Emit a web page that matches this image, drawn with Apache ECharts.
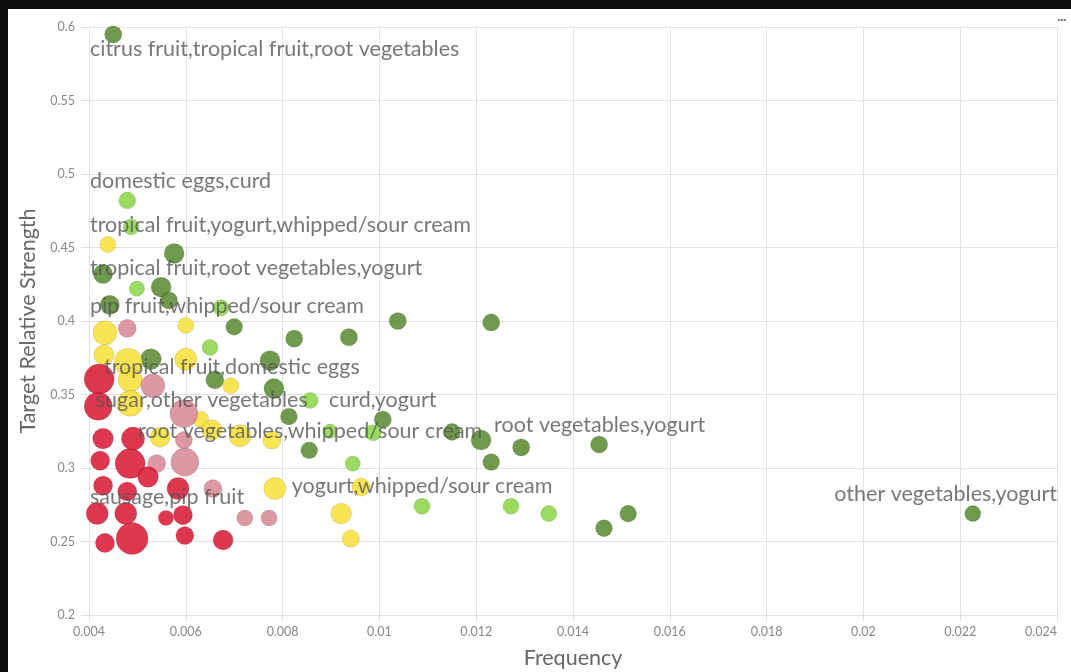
<!DOCTYPE html>
<html>
<head>
<meta charset="utf-8">
<script src="https://cdn.jsdelivr.net/npm/echarts@6/dist/echarts.min.js"></script>
<style>
  html, body { margin: 0; padding: 0; background: #0d0d0d; }
  #chart { position: absolute; left: 8px; top: 9px; width: 1063px; height: 663px; background: #fff; }
</style>
</head>
<body>
<div id="chart"></div>
<script>
// one group per colour: frequency, target relative strength, support (bubble weight)
const darkGreenX = [0.0045, 0.00576, 0.00429, 0.00549, 0.00565, 0.00443, 0.0070, 0.00824, 0.00937, 0.01038, 0.01231, 0.00528, 0.00774, 0.0066, 0.00782, 0.00813, 0.01007, 0.0115, 0.0121, 0.00855, 0.01231, 0.01293, 0.01454, 0.01464, 0.01514, 0.02226];
const darkGreenY = [0.595, 0.446, 0.432, 0.423, 0.414, 0.411, 0.396, 0.388, 0.389, 0.400, 0.399, 0.374, 0.373, 0.360, 0.354, 0.335, 0.333, 0.3245, 0.319, 0.312, 0.304, 0.314, 0.316, 0.259, 0.269, 0.269];
const darkGreenW = [4.3, 5.0, 4.8, 5.0, 4.3, 4.8, 4.2, 4.3, 4.3, 4.3, 4.3, 5.2, 5.0, 4.5, 5.0, 4.2, 4.3, 4.2, 5.0, 4.2, 4.2, 4.3, 4.3, 4.2, 4.2, 4.0];

const lightGreenX = [0.00479, 0.00487, 0.00499, 0.00673, 0.0065, 0.00857, 0.00898, 0.00987, 0.00945, 0.01088, 0.01272, 0.0135];
const lightGreenY = [0.482, 0.464, 0.422, 0.409, 0.382, 0.346, 0.325, 0.324, 0.303, 0.274, 0.274, 0.269];
const lightGreenW = [4.2, 4.0, 3.8, 4.0, 4.0, 4.0, 3.6, 4.0, 3.8, 4.0, 4.0, 4.0];

const yellowX = [0.00439, 0.00433, 0.006, 0.00431, 0.00481, 0.006, 0.00485, 0.00693, 0.00485, 0.00631, 0.00654, 0.00547, 0.00712, 0.00778, 0.00784, 0.00962, 0.00921, 0.00941];
const yellowY = [0.452, 0.392, 0.397, 0.377, 0.372, 0.374, 0.360, 0.356, 0.344, 0.333, 0.326, 0.321, 0.322, 0.319, 0.286, 0.287, 0.269, 0.252];
const yellowW = [4.0, 6.0, 4.0, 5.0, 7.0, 5.5, 6.0, 4.0, 6.5, 4.0, 5.0, 5.0, 5.5, 4.5, 5.5, 4.5, 5.2, 4.3];

const pinkX = [0.00479, 0.00532, 0.00596, 0.00596, 0.0054, 0.00598, 0.00656, 0.00722, 0.00772];
const pinkY = [0.395, 0.356, 0.337, 0.319, 0.303, 0.304, 0.286, 0.266, 0.266];
const pinkW = [4.5, 6.0, 7.0, 4.3, 4.5, 7.0, 4.5, 4.0, 4.0];

const redX = [0.00421, 0.00419, 0.00429, 0.00491, 0.00423, 0.00485, 0.00522, 0.00429, 0.00479, 0.00584, 0.00417, 0.00476, 0.00559, 0.00594, 0.00433, 0.00489, 0.00598, 0.00677];
const redY = [0.3605, 0.342, 0.320, 0.320, 0.305, 0.303, 0.294, 0.288, 0.284, 0.286, 0.269, 0.269, 0.266, 0.268, 0.249, 0.252, 0.254, 0.251];
const redW = [7.5, 7.0, 5.2, 5.8, 4.8, 7.5, 5.2, 4.8, 4.8, 5.5, 5.5, 5.5, 3.8, 4.8, 4.8, 8.0, 4.5, 5.0];

// rule annotations
const ruleNames = ['citrus fruit,tropical fruit,root vegetables', 'domestic eggs,curd', 'tropical fruit,yogurt,whipped/sour cream', 'tropical fruit,root vegetables,yogurt', 'pip fruit,whipped/sour cream', 'tropical fruit,domestic eggs', 'sugar,other vegetables', 'curd,yogurt', 'root vegetables,whipped/sour cream', 'root vegetables,yogurt', 'yogurt,whipped/sour cream', 'sausage,pip fruit', 'other vegetables,yogurt'];
const ruleX = [0.00402, 0.00402, 0.00402, 0.00402, 0.00402, 0.00431, 0.00414, 0.00896, 0.00501, 0.01237, 0.00819, 0.00402, 0.024];
const ruleY = [0.585, 0.495, 0.465, 0.436, 0.410, 0.369, 0.346, 0.346, 0.325, 0.329, 0.288, 0.280, 0.282];
const ruleSide = ['right', 'right', 'right', 'right', 'right', 'right', 'right', 'right', 'right', 'right', 'right', 'right', 'left'];

const groups = [
  { name: 'g1', x: darkGreenX, y: darkGreenY, w: darkGreenW, color: '#5b8b33' },
  { name: 'g2', x: lightGreenX, y: lightGreenY, w: lightGreenW, color: '#8ed64c' },
  { name: 'g3', x: yellowX, y: yellowY, w: yellowW, color: '#f8e03c' },
  { name: 'g4', x: pinkX, y: pinkY, w: pinkW, color: '#d98a96' },
  { name: 'g5', x: redX, y: redY, w: redW, color: '#da1c38' }
];

const chart = echarts.init(document.getElementById('chart'));

const series = groups.map(g => ({
  name: g.name,
  type: 'scatter',
  data: g.x.map((v, i) => [v, g.y[i], g.w[i]]),
  symbolSize: d => d[2] * 4,
  itemStyle: { color: g.color, opacity: 0.88, borderColor: 'rgba(0,0,0,0.12)', borderWidth: 1 },
  emphasis: { disabled: true },
  z: 2
}));

series.push({
  name: 'rules',
  type: 'scatter',
  symbolSize: 0,
  silent: true,
  z: 5,
  data: ruleNames.map((t, i) => ({
    name: t,
    value: [ruleX[i], ruleY[i]],
    label: { position: ruleSide[i] }
  })),
  label: {
    show: true,
    distance: 0,
    formatter: p => p.name,
    color: '#555',
    fontFamily: 'Lato',
    fontSize: 21.5
  }
});

const option = {
  animation: false,
  textStyle: { fontFamily: 'Lato' },
  grid: { left: 81, right: 14, top: 18, bottom: 57, outerBoundsMode: 'none' },
  graphic: [{
    type: 'text', right: 5, top: 7,
    style: { text: '•••', fill: '#666', fontSize: 8 }
  }],
  xAxis: {
    type: 'value',
    min: 0.004, max: 0.024, interval: 0.002,
    name: 'Frequency',
    nameLocation: 'middle',
    nameGap: 32,
    nameTextStyle: { fontSize: 21.5, color: '#666' },
    axisLine: { show: false },
    axisTick: { show: true, length: 6, lineStyle: { color: '#ddd' } },
    axisLabel: { color: '#888', fontSize: 12.5, margin: 10, alignMaxLabel: 'right', formatter: v => String(+v.toFixed(3)) },
    splitLine: { lineStyle: { color: '#e2e2e2' } }
  },
  yAxis: {
    type: 'value',
    min: 0.2, max: 0.6, interval: 0.05,
    name: 'Target Relative Strength',
    nameLocation: 'middle',
    nameGap: 48,
    nameTextStyle: { fontSize: 21.5, color: '#666' },
    axisLine: { show: false },
    axisTick: { show: true, length: 8, lineStyle: { color: '#ddd' } },
    axisLabel: { color: '#888', fontSize: 12.5, margin: 14, formatter: v => String(+v.toFixed(2)) },
    splitLine: { lineStyle: { color: '#e2e2e2' } }
  },
  series: series
};

chart.setOption(option);
</script>
</body>
</html>
